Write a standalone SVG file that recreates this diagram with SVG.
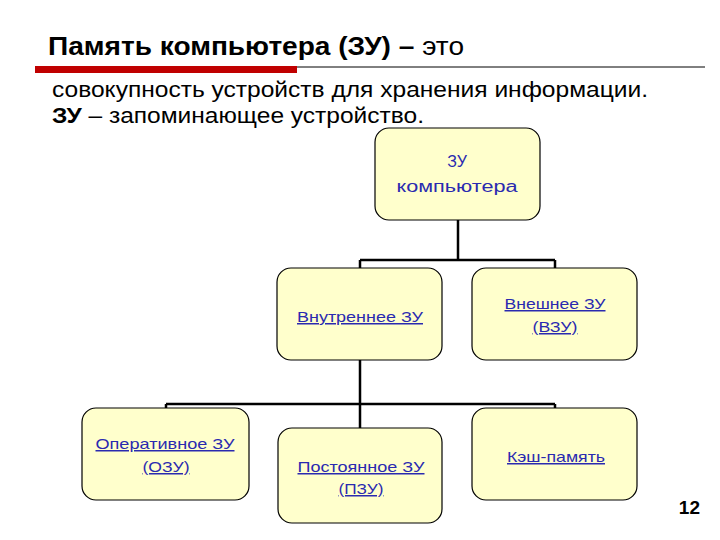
<svg xmlns="http://www.w3.org/2000/svg" width="720" height="540" viewBox="0 0 720 540">
<style>
.b{fill:#ffffcc;stroke:#000;stroke-width:1.2}
.t{font-family:"Liberation Sans",Arial,sans-serif;font-size:15px;fill:#2a2ab0;text-anchor:middle;text-decoration:underline}
.c{stroke:#000;stroke-width:2.5;fill:none}
.h{font-family:"Liberation Sans",Arial,sans-serif;fill:#000}
</style>
<rect width="720" height="540" fill="#fff"/>
<text class="h" x="48" y="55" font-size="25" textLength="416" lengthAdjust="spacingAndGlyphs"><tspan font-weight="bold">Память компьютера (ЗУ) –</tspan> это</text>
<rect x="35" y="66" width="262" height="7" fill="#c00000"/>
<line x1="297" y1="67" x2="705" y2="67" stroke="#000" stroke-width="1"/>
<text class="h" x="52" y="97" font-size="22" textLength="596" lengthAdjust="spacingAndGlyphs">совокупность устройств для хранения информации.</text>
<text class="h" x="52" y="123" font-size="22" textLength="372" lengthAdjust="spacingAndGlyphs"><tspan font-weight="bold">ЗУ</tspan> – запоминающее устройство.</text>
<g id="connectors">
<path class="c" d="M458 220V260M360 260H555M360 260V268M555 260V268"/>
<path class="c" d="M360 360V428M166 404H555M166 404V408M555 404V408"/>
</g>
<g id="n1"><rect class="b" x="375" y="128" width="165" height="92" rx="14"/><text class="t" x="457" y="167" style="text-decoration:none;font-size:16px">ЗУ</text><text class="t" x="457" y="192" style="text-decoration:none;font-size:16px" textLength="121" lengthAdjust="spacingAndGlyphs">компьютера</text></g>
<g id="n2"><rect class="b" x="277" y="268" width="165" height="92" rx="14"/><text class="t" x="360" y="322" textLength="126" lengthAdjust="spacingAndGlyphs">Внутреннее ЗУ</text></g>
<g id="n3"><rect class="b" x="472" y="268" width="165" height="92" rx="14"/><text class="t" x="555" y="309" textLength="101" lengthAdjust="spacingAndGlyphs">Внешнее ЗУ</text><text class="t" x="555" y="332" textLength="45" lengthAdjust="spacingAndGlyphs">(ВЗУ)</text></g>
<g id="n4"><rect class="b" x="82" y="408" width="167" height="92" rx="14"/><text class="t" x="165" y="449" textLength="139" lengthAdjust="spacingAndGlyphs">Оперативное ЗУ</text><text class="t" x="166" y="472" textLength="47" lengthAdjust="spacingAndGlyphs">(ОЗУ)</text></g>
<g id="n5"><rect class="b" x="278" y="428" width="164" height="95" rx="14"/><text class="t" x="361" y="472" textLength="127" lengthAdjust="spacingAndGlyphs">Постоянное ЗУ</text><text class="t" x="361" y="494" textLength="45" lengthAdjust="spacingAndGlyphs">(ПЗУ)</text></g>
<g id="n6"><rect class="b" x="472" y="408" width="165" height="92" rx="14"/><text class="t" x="556" y="462" textLength="98" lengthAdjust="spacingAndGlyphs">Кэш-память</text></g>
<text class="h" x="700" y="514" font-size="19" font-weight="bold" text-anchor="end">12</text>
</svg>
